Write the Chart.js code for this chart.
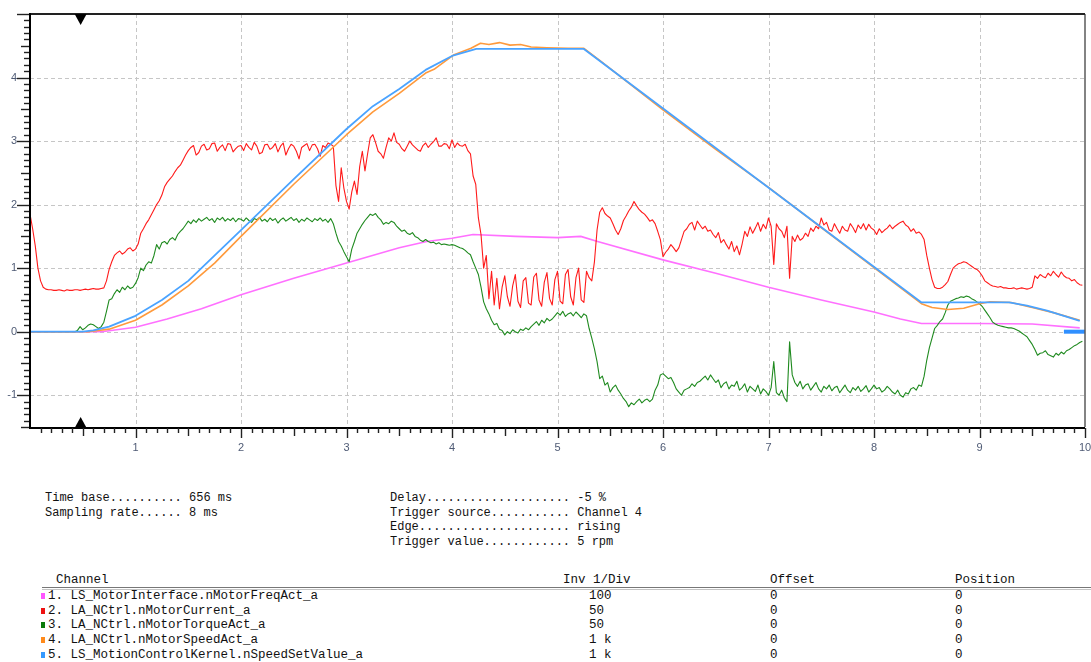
<!DOCTYPE html>
<html>
<head>
<meta charset="utf-8">
<script src="https://cdn.jsdelivr.net/npm/chart.js@4/dist/chart.umd.min.js"></script>
<style>
  html, body { margin: 0; padding: 0; background: #fff; width: 1091px; height: 662px; overflow: hidden; }
  #plot { position: absolute; left: 0; top: 0; }
  .mono { position: absolute; font-family: "Liberation Mono", "DejaVu Sans Mono", monospace; font-size: 12px; line-height: 14px; white-space: pre; color: #111; }
  .tbl { font-size: 12.5px; }
  .sw { position: absolute; width: 4px; height: 6px; }
  .rule1 { position: absolute; left: 42px; width: 1049px; height: 1px; background: #777; top: 587px; }
  .rule2 { position: absolute; left: 42px; width: 1049px; height: 1px; background: #c4c4c4; top: 589px; }
</style>
</head>
<body>
<canvas id="plot" width="1091" height="465"></canvas>
<div id="info"></div>
<div id="table"></div>

<script>
// ---- recorded traces (x = time in divisions, y = screen divisions) ----
const sampleStep = 0.025;

// 2. LA_NCtrl.nMotorCurrent_a  (one row = half a division)
const motorCurrent = [
  1.85,1.62,1.35,1.00,0.80,0.70,0.67,0.66,0.66,0.65,0.65,0.66,0.65,0.64,0.66,0.65,0.65,0.66,0.66,0.65,
  0.66,0.67,0.66,0.67,0.68,0.67,0.67,0.68,0.69,0.80,0.98,1.10,1.20,1.24,1.27,1.22,1.25,1.30,1.32,1.27,
  1.30,1.38,1.55,1.62,1.70,1.76,1.84,1.92,2.00,2.06,2.15,2.28,2.35,2.40,2.45,2.52,2.58,2.62,2.70,2.78,
  2.85,2.90,2.93,2.78,2.82,2.92,2.95,2.86,2.88,2.96,2.97,2.84,2.90,2.94,2.85,2.96,2.95,2.83,2.88,2.92,
  2.93,2.85,2.96,2.90,2.86,2.98,2.92,2.80,2.82,2.94,2.95,2.87,2.90,2.96,2.83,2.92,2.97,2.78,2.88,2.95,
  2.92,2.84,2.72,2.90,2.93,2.96,2.85,2.94,2.95,2.88,2.76,2.93,2.90,2.97,2.95,2.92,2.30,2.05,2.58,2.26,
  2.05,1.93,2.20,2.37,2.16,2.60,2.84,2.53,2.80,3.05,3.10,2.98,2.84,2.80,2.73,2.90,3.05,3.00,3.13,2.98,
  2.95,2.88,2.84,2.92,3.00,2.94,2.90,2.86,2.84,2.93,2.97,2.90,2.95,2.99,3.05,2.92,2.92,2.96,2.95,2.88,
  3.02,2.90,2.97,2.93,2.92,2.95,2.85,2.80,2.45,2.32,1.79,1.53,1.00,1.20,0.52,0.95,0.42,0.84,0.36,0.70,
  0.88,0.55,0.40,0.72,0.90,0.48,0.38,0.80,0.85,0.45,0.42,0.86,0.92,0.50,0.40,0.78,0.93,0.52,0.42,0.82,
  0.95,0.48,0.44,0.90,0.98,0.55,0.42,0.85,1.00,0.50,0.46,0.95,0.85,0.80,1.10,1.60,1.88,1.95,1.86,1.82,
  1.79,1.70,1.60,1.53,1.62,1.75,1.82,1.90,1.96,2.05,1.98,1.92,1.88,1.85,1.80,1.74,1.76,1.70,1.58,1.45,
  1.18,1.25,1.30,1.37,1.32,1.26,1.32,1.45,1.58,1.62,1.69,1.72,1.60,1.74,1.68,1.62,1.66,1.58,1.60,1.53,
  1.48,1.56,1.40,1.45,1.37,1.30,1.42,1.26,1.35,1.21,1.38,1.58,1.50,1.65,1.55,1.63,1.72,1.58,1.69,1.62,
  1.79,1.66,1.06,1.70,1.62,1.58,1.48,1.66,0.84,1.50,1.42,1.52,1.44,1.47,1.55,1.50,1.63,1.58,1.66,1.62,
  1.79,1.68,1.72,1.60,1.58,1.70,1.62,1.55,1.66,1.60,1.58,1.70,1.64,1.56,1.68,1.62,1.70,1.60,1.69,1.63,
  1.60,1.53,1.62,1.56,1.60,1.63,1.68,1.62,1.66,1.69,1.72,1.74,1.68,1.65,1.58,1.62,1.55,1.57,1.53,1.45,
  1.20,1.00,0.82,0.70,0.68,0.68,0.70,0.74,0.79,0.90,1.00,1.04,1.07,1.08,1.10,1.09,1.06,1.03,1.00,0.98,
  0.94,0.88,0.80,0.77,0.74,0.72,0.71,0.70,0.71,0.69,0.69,0.68,0.68,0.69,0.67,0.68,0.69,0.68,0.67,0.68,
  0.70,0.88,0.84,0.90,0.87,0.85,0.92,0.88,0.95,0.90,0.86,0.94,0.88,0.85,0.84,0.80,0.82,0.77,0.74,0.73
];

// 3. LA_NCtrl.nMotorTorqueAct_a  (one row = half a division)
const motorTorque = [
  0,0,0,0,0,0,0,0,0,0,0,0,0,0,0,0,0,0,0.02,0.08,
  0.03,0.06,0.10,0.12,0.11,0.08,0.05,0.08,0.15,0.32,0.50,0.52,0.60,0.66,0.62,0.70,0.66,0.72,0.68,0.70,
  0.76,0.85,1.00,0.96,1.05,1.10,1.08,1.20,1.37,1.30,1.40,1.42,1.38,1.45,1.48,1.44,1.53,1.58,1.62,1.68,
  1.74,1.70,1.76,1.72,1.78,1.74,1.77,1.80,1.75,1.78,1.72,1.79,1.76,1.80,1.74,1.78,1.75,1.79,1.73,1.78,
  1.77,1.74,1.79,1.75,1.72,1.78,1.76,1.80,1.74,1.77,1.73,1.79,1.75,1.78,1.71,1.76,1.79,1.74,1.77,1.80,
  1.75,1.78,1.72,1.77,1.74,1.79,1.76,1.73,1.78,1.75,1.79,1.74,1.77,1.72,1.78,1.70,1.55,1.42,1.35,1.26,
  1.18,1.10,1.30,1.42,1.55,1.62,1.69,1.75,1.80,1.85,1.83,1.86,1.80,1.76,1.69,1.72,1.70,1.74,1.72,1.66,
  1.62,1.58,1.60,1.55,1.53,1.56,1.50,1.48,1.44,1.42,1.45,1.42,1.40,1.41,1.38,1.40,1.37,1.38,1.37,1.36,
  1.37,1.36,1.34,1.32,1.31,1.28,1.24,1.21,1.10,1.00,0.90,0.70,0.47,0.36,0.28,0.18,0.11,0.13,0.04,0.02,
  -0.05,0.00,-0.03,0.03,0.00,-0.02,0.04,0.02,0.06,0.03,0.08,0.12,0.16,0.10,0.18,0.14,0.21,0.17,0.20,0.25,
  0.30,0.26,0.32,0.24,0.28,0.30,0.25,0.31,0.27,0.22,0.28,0.25,0.05,-0.10,-0.27,-0.47,-0.74,-0.70,-0.84,-0.80,
  -0.95,-0.88,-0.84,-0.92,-0.98,-1.05,-1.10,-1.18,-1.12,-1.15,-1.10,-1.06,-1.12,-1.08,-1.06,-1.10,-1.06,-0.92,-0.84,-0.68,
  -0.66,-0.70,-0.74,-0.72,-0.80,-0.90,-0.95,-1.00,-0.92,-0.90,-0.88,-0.82,-0.86,-0.80,-0.78,-0.74,-0.70,-0.76,-0.68,-0.74,
  -0.80,-0.76,-0.88,-0.82,-0.79,-0.90,-0.84,-0.86,-0.78,-0.92,-0.88,-0.82,-0.95,-0.86,-0.90,-0.94,-0.84,-0.98,-0.90,-0.94,
  -1.00,-0.88,-0.47,-0.96,-1.00,-0.92,-1.04,-1.10,-0.16,-0.68,-0.80,-0.86,-0.78,-0.90,-0.84,-0.82,-0.92,-0.86,-0.80,-0.90,
  -0.95,-0.86,-0.90,-0.84,-0.93,-0.88,-0.86,-0.96,-0.90,-0.84,-0.92,-0.96,-0.88,-0.92,-0.86,-0.94,-0.90,-0.85,-0.95,-0.90,
  -0.84,-0.90,-0.88,-0.95,-0.92,-0.86,-0.90,-0.95,-0.98,-0.92,-1.00,-1.03,-0.96,-0.98,-0.90,-0.88,-0.92,-0.84,-0.86,-0.70,
  -0.45,-0.25,-0.10,0.05,0.10,0.16,0.20,0.30,0.42,0.48,0.50,0.52,0.53,0.55,0.54,0.56,0.55,0.52,0.50,0.47,
  0.44,0.40,0.34,0.28,0.22,0.15,0.12,0.10,0.09,0.08,0.07,0.06,0.06,0.05,0.03,0.01,-0.02,-0.05,-0.08,-0.14,
  -0.20,-0.28,-0.37,-0.34,-0.33,-0.30,-0.36,-0.38,-0.40,-0.34,-0.37,-0.32,-0.35,-0.30,-0.28,-0.25,-0.22,-0.20,-0.17,-0.15
];

// 1. LS_MotorInterface.nMotorFreqAct_a
const freqTime  = [0, 0.68, 1.0, 1.3, 1.625, 2.0, 2.5, 3.0, 3.5, 3.76, 4.0, 4.2, 4.6, 5.0, 5.22, 5.38, 6.0, 6.5, 7.0, 7.5, 8.0, 8.25, 8.45, 9.0, 9.5, 9.95];
const freqValue = [0, 0,    0.07, 0.2, 0.36, 0.58, 0.84, 1.08, 1.32, 1.42, 1.47, 1.53, 1.50, 1.48, 1.50, 1.42, 1.13, 0.92, 0.70, 0.50, 0.31, 0.20, 0.13, 0.13, 0.12, 0.06];

// 4. LA_NCtrl.nMotorSpeedAct_a
const speedActTime  = [0, 0.55, 0.75, 1.0, 1.25, 1.5, 1.75, 2.0, 2.5, 3.0, 3.25, 3.5, 3.75, 3.83, 4.02, 4.18, 4.27, 4.35, 4.45, 4.55, 4.65, 4.75, 4.9, 5.1, 5.25, 5.4, 5.6, 6.0, 6.5, 7.0, 7.5, 8.0, 8.3, 8.45, 8.55, 8.7, 8.85, 9.0, 9.1, 9.3, 9.5, 9.7, 9.95];
const speedActValue = [0, 0,    0.04, 0.18, 0.42, 0.72, 1.08, 1.50, 2.32, 3.10, 3.46, 3.75, 4.07, 4.13, 4.36, 4.46, 4.54, 4.52, 4.55, 4.51, 4.52, 4.48, 4.47, 4.46, 4.46, 4.27, 4.01, 3.49, 2.87, 2.27, 1.64, 1.01, 0.63, 0.44, 0.38, 0.35, 0.37, 0.44, 0.47, 0.46, 0.38, 0.30, 0.18];

// 5. LS_MotionControlKernel.nSpeedSetValue_a
const speedSetTime  = [0, 0.5, 0.6, 0.75, 1.0, 1.25, 1.5, 1.625, 2.0, 2.5, 3.0, 3.25, 3.5, 3.75, 4.0, 4.23, 5.25, 8.45, 9.28, 9.45, 9.64, 9.8, 9.95];
const speedSetValue = [0, 0,   0.02, 0.08, 0.25, 0.50, 0.80, 1.00, 1.60, 2.40, 3.19, 3.55, 3.82, 4.12, 4.34, 4.45, 4.45, 0.46, 0.46, 0.41, 0.33, 0.25, 0.17];

// zero reference marker of the selected channel, at the right edge
const zeroMarkTime  = [9.8, 10];
const zeroMarkValue = [0, 0];

// axis ticks and trigger position
const xTickLabels = [1, 2, 3, 4, 5, 6, 7, 8, 9, 10];
const yTickLabels = [-1, 0, 1, 2, 3, 4];
const xRange = [0, 10];
const yRange = [-1.5, 5];
const triggerTime = 0.48;

// ---- acquisition settings ----
const settingsLeft  = [['Time base', '656 ms'], ['Sampling rate', '8 ms']];
const settingsRight = [['Delay', '-5 %'], ['Trigger source', 'Channel 4'], ['Edge', 'rising'], ['Trigger value', '5 rpm']];

// ---- channel table ----
const channelNames = [
  '1. LS_MotorInterface.nMotorFreqAct_a',
  '2. LA_NCtrl.nMotorCurrent_a',
  '3. LA_NCtrl.nMotorTorqueAct_a',
  '4. LA_NCtrl.nMotorSpeedAct_a',
  '5. LS_MotionControlKernel.nSpeedSetValue_a'
];
const channelInvDiv   = ['100', '50', '50', '1 k', '1 k'];
const channelOffset   = ['0', '0', '0', '0', '0'];
const channelPosition = ['0', '0', '0', '0', '0'];
const channelSwatch   = ['#ff55ff', '#ee1111', '#0a7a0a', '#ff8a1a', '#3399ff'];
const channelLine     = ['#ff70ff', '#ff1a1a', '#1f8a1f', '#ff9a3c', '#4aa3ff'];

(function buildInfo() {
  const host = document.getElementById('info');
  const dotted = (label, value, width) => label + '.'.repeat(width - label.length) + ' ' + value;
  let html = '';
  settingsLeft.forEach(([k, v], i) => {
    html += `<div class="mono" style="left:45px;top:${491 + i * 14.5}px;">${dotted(k, v, 19)}</div>`;
  });
  settingsRight.forEach(([k, v], i) => {
    html += `<div class="mono" style="left:390px;top:${491 + i * 14.5}px;">${dotted(k, v, 25)}</div>`;
  });
  host.innerHTML = html;
})();

(function buildTable() {
  const host = document.getElementById('table');
  let html = '';
  html += '<div class="mono tbl" style="left:56px;top:573px;">Channel</div>';
  html += '<div class="mono tbl" style="left:563px;top:573px;">Inv 1/Div</div>';
  html += '<div class="mono tbl" style="left:770px;top:573px;">Offset</div>';
  html += '<div class="mono tbl" style="left:955px;top:573px;">Position</div>';
  html += '<div class="rule1"></div><div class="rule2"></div>';
  const rowTop = [589, 603.5, 618, 632.5, 648];
  channelNames.forEach((name, i) => {
    const t = rowTop[i];
    html += `<div class="sw" style="left:41px;top:${t + 4}px;background:${channelSwatch[i]}"></div>`;
    html += `<div class="mono tbl" style="left:48px;top:${t}px;">${name}</div>`;
    html += `<div class="mono tbl" style="left:589px;top:${t}px;">${channelInvDiv[i]}</div>`;
    html += `<div class="mono tbl" style="left:770px;top:${t}px;">${channelOffset[i]}</div>`;
    html += `<div class="mono tbl" style="left:955px;top:${t}px;">${channelPosition[i]}</div>`;
  });
  host.innerHTML = html;
})();

// ---- chart ----
const pairs = (xs, ys) => xs.map((x, i) => ({ x: x, y: ys[i] }));
const sampled = (ys) => ys.map((y, i) => ({ x: +(i * sampleStep).toFixed(3), y: y }));

const scopeFrame = {
  id: 'scopeFrame',
  beforeDatasetsDraw(chart) {
    const { ctx, chartArea: a, scales: { x, y } } = chart;
    ctx.save();
    ctx.strokeStyle = '#c6c6c6';
    ctx.lineWidth = 1;
    ctx.setLineDash([4, 3]);
    for (let k = 1; k < 10; k++) {
      const px = Math.round(x.getPixelForValue(k)) + 0.5;
      ctx.beginPath(); ctx.moveTo(px, a.top); ctx.lineTo(px, a.bottom); ctx.stroke();
    }
    yTickLabels.forEach(v => {
      const py = Math.round(y.getPixelForValue(v)) + 0.5;
      ctx.beginPath(); ctx.moveTo(a.left, py); ctx.lineTo(a.right, py); ctx.stroke();
    });
    ctx.restore();
  },
  afterDatasetsDraw(chart) {
    const { ctx, chartArea: a, scales: { x, y } } = chart;
    ctx.save();
    ctx.setLineDash([]);
    // right and top border
    ctx.strokeStyle = '#5a5a5a';
    ctx.lineWidth = 1.5;
    ctx.beginPath(); ctx.moveTo(a.right, a.top); ctx.lineTo(a.right, a.bottom); ctx.stroke();
    ctx.strokeStyle = '#222';
    ctx.lineWidth = 2;
    ctx.beginPath(); ctx.moveTo(a.left, a.top); ctx.lineTo(a.right, a.top); ctx.stroke();
    // left and bottom axes
    ctx.strokeStyle = '#000';
    ctx.lineWidth = 2;
    ctx.beginPath(); ctx.moveTo(a.left, a.top - 1); ctx.lineTo(a.left, a.bottom + 1); ctx.lineTo(a.right, a.bottom + 1); ctx.stroke();
    // tick marks
    ctx.strokeStyle = '#222';
    ctx.lineWidth = 1.4;
    for (let k = 1; k <= 100; k++) {
      const len = k % 10 === 0 ? 10 : (k % 5 === 0 ? 8 : 5);
      const px = Math.round(x.getPixelForValue(k / 10)) + 0.5;
      ctx.beginPath(); ctx.moveTo(px, a.bottom + 1); ctx.lineTo(px, a.bottom + 1 + len); ctx.stroke();
    }
    for (let k = -15; k <= 50; k++) {
      const len = k % 10 === 0 ? 12 : (k % 5 === 0 ? 8 : 5);
      const py = Math.round(y.getPixelForValue(k / 10)) + 0.5;
      ctx.beginPath(); ctx.moveTo(a.left - 1, py); ctx.lineTo(a.left - 1 - len, py); ctx.stroke();
    }
    // trigger position markers
    const tx = x.getPixelForValue(triggerTime);
    ctx.fillStyle = '#000';
    ctx.beginPath(); ctx.moveTo(tx - 6, a.top); ctx.lineTo(tx + 6, a.top); ctx.lineTo(tx, a.top + 11); ctx.closePath(); ctx.fill();
    ctx.beginPath(); ctx.moveTo(tx - 6, a.bottom + 1); ctx.lineTo(tx + 6, a.bottom + 1); ctx.lineTo(tx, a.bottom - 10); ctx.closePath(); ctx.fill();
    ctx.restore();
  }
};

const tickFont = { family: '"Liberation Sans", Arial, sans-serif', size: 11 };
const tickColor = '#4f5b75';

new Chart(document.getElementById('plot'), {
  type: 'line',
  data: {
    datasets: [
      { label: 'marker', data: pairs(zeroMarkTime, zeroMarkValue), borderColor: '#2f8fff', borderWidth: 4, order: 0 },
      { label: channelNames[4], data: pairs(speedSetTime, speedSetValue), borderColor: channelLine[4], borderWidth: 1.8, order: 1 },
      { label: channelNames[3], data: pairs(speedActTime, speedActValue), borderColor: channelLine[3], borderWidth: 1.6, order: 2 },
      { label: channelNames[1], data: sampled(motorCurrent), borderColor: channelLine[1], borderWidth: 1.1, order: 3 },
      { label: channelNames[2], data: sampled(motorTorque), borderColor: channelLine[2], borderWidth: 1.1, order: 4 },
      { label: channelNames[0], data: pairs(freqTime, freqValue), borderColor: channelLine[0], borderWidth: 1.6, order: 5 }
    ]
  },
  options: {
    responsive: false,
    animation: false,
    devicePixelRatio: 1,
    layout: { padding: { top: 14, right: 6, left: 0, bottom: 0 } },
    elements: { point: { radius: 0 }, line: { tension: 0, borderJoinStyle: 'round', fill: false } },
    plugins: { legend: { display: false }, tooltip: { enabled: false } },
    scales: {
      x: {
        type: 'linear', min: xRange[0], max: xRange[1],
        afterBuildTicks: s => { s.ticks = xTickLabels.map(v => ({ value: v })); },
        afterFit: s => { s.height = 38; s.paddingLeft = 0; s.paddingRight = 0; },
        grid: { display: false, drawTicks: false },
        border: { display: false },
        ticks: { padding: 14, font: tickFont, color: tickColor, autoSkip: false, maxRotation: 0, callback: v => String(v) }
      },
      y: {
        type: 'linear', min: yRange[0], max: yRange[1],
        afterBuildTicks: s => { s.ticks = yTickLabels.map(v => ({ value: v })); },
        afterFit: s => { s.width = 30; s.paddingTop = 0; s.paddingBottom = 0; },
        grid: { display: false, drawTicks: false },
        border: { display: false },
        ticks: { padding: 13, font: tickFont, color: tickColor, autoSkip: false, callback: v => String(v) }
      }
    }
  },
  plugins: [scopeFrame]
});
</script>
</body>
</html>
